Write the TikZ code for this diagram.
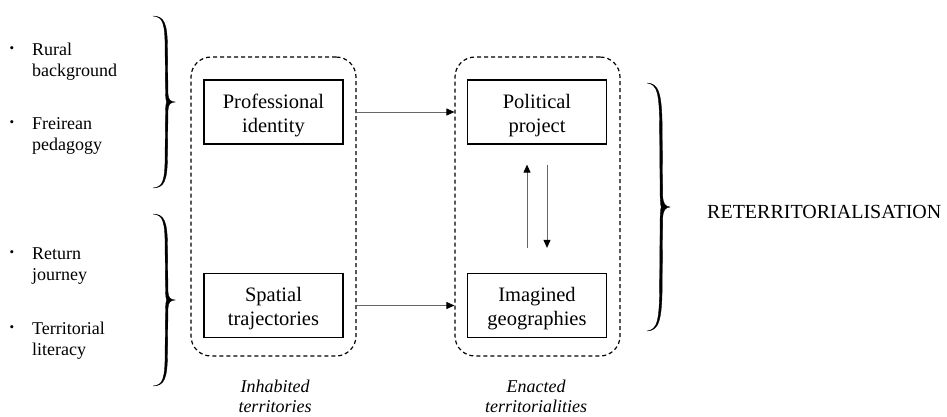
\documentclass[tikz,border=0pt]{standalone}
\usepackage{fontspec}
\setmainfont{Liberation Serif}
\usetikzlibrary{arrows.meta}
\begin{document}
\begin{tikzpicture}[x=1pt,y=-1pt,
  concept/.style={draw=black, line width=1.25pt, minimum width=139pt, minimum height=64pt,
    align=center, inner sep=0pt, font=\fontsize{20.5}{24}\selectfont},
  conceptlabel/.style={align=center, inner sep=0pt, font=\fontsize{20.5}{24}\selectfont},
  group/.style={draw=black, line width=1.2pt, dash pattern=on 4pt off 3pt,
    rounded corners=20pt, minimum width=165pt, minimum height=299pt, inner sep=0pt},
  link/.style={draw=black!60, line width=0.9pt,
    -{Triangle[length=8pt,width=7pt,color=black]}},
  itemtext/.style={anchor=west, align=left, inner sep=0pt, font=\fontsize{18}{21}\selectfont},
  dot/.style={inner sep=0pt, font=\fontsize{13}{13}\selectfont},
  caption/.style={align=center, inner sep=0pt, font=\fontsize{18}{20}\selectfont\itshape},
  curly/.pic={
    \filldraw[black, line width=0.35pt]
      (0,-1) .. controls (0.5,-0.995) and (0.66,-0.93) .. (0.66,-0.6)
      -- (0.68,-0.1) .. controls (0.69,-0.02) and (0.8,-0.005) .. (1,0)
      .. controls (0.8,0.005) and (0.69,0.02) .. (0.68,0.1)
      -- (0.66,0.6) .. controls (0.66,0.93) and (0.5,0.995) .. (0,1)
      .. controls (0.46,0.99) and (0.55,0.92) .. (0.55,0.6)
      -- (0.57,0.1) .. controls (0.58,0.03) and (0.6,0.01) .. (0.62,0)
      .. controls (0.6,-0.01) and (0.58,-0.03) .. (0.57,-0.1)
      -- (0.55,-0.6) .. controls (0.55,-0.92) and (0.46,-0.99) .. (0,-1) -- cycle;
  }
]
\useasboundingbox (0,0) rectangle (947,416);

% bullet lists on the left
\node[dot] (d1) at (12,50) {\textbullet};
\node[itemtext] (t1) at (32,62) {Rural\\background};
\node[dot] (d2) at (12,124) {\textbullet};
\node[itemtext] (t2) at (32,136) {Freirean\\pedagogy};
\node[dot] (d3) at (12,254) {\textbullet};
\node[itemtext] (t3) at (32,266) {Return\\journey};
\node[dot] (d4) at (12,329) {\textbullet};
\node[itemtext] (t4) at (32,341) {Territorial\\literacy};

% braces
\pic[xscale=22, yscale=86] at (153,102) {curly};
\pic[xscale=22, yscale=86] at (153,300) {curly};
\pic[xscale=23, yscale=124] at (647,207) {curly};

% dashed groups
\node[group] (g1) at (273.5,206.5) {};
\node[group] (g2) at (537.5,206.5) {};

% concept boxes, with their two-line labels set slightly below centre
\node[concept] (prof) at (273.5,112) {};
\node[concept] (spat) at (273.5,305.5) {};
\node[concept] (pol)  at (537,112) {};
\node[concept] (img)  at (537,305.5) {};
\node[conceptlabel] (profl) at ([yshift=-3.5pt]prof.center) {Professional\\identity};
\node[conceptlabel] (spatl) at ([yshift=-3.5pt]spat.center) {Spatial\\trajectories};
\node[conceptlabel] (poll)  at ([yshift=-3.5pt]pol.center) {Political\\project};
\node[conceptlabel] (imgl)  at ([yshift=-3.5pt]img.center) {Imagined\\geographies};

% connectors
\draw[link] (g1.east |- prof) -- (g2.west |- pol);
\draw[link] (g1.east |- spat) -- (g2.west |- img);
\draw[link, shorten <=25pt, shorten >=20pt] ([xshift=-10pt]img.north) -- ([xshift=-10pt]pol.south);
\draw[link, shorten <=20pt, shorten >=25pt] ([xshift=10pt]pol.south) -- ([xshift=10pt]img.north);

% captions
\node[caption] (c1) at (275,396) {Inhabited\\territories};
\node[caption] (c2) at (536,396) {Enacted\\territorialities};

\node[anchor=west, inner sep=0pt, font=\fontsize{20}{24}\selectfont] (rt) at (707,212) {RETERRITORIALISATION};
\end{tikzpicture}
\end{document}
